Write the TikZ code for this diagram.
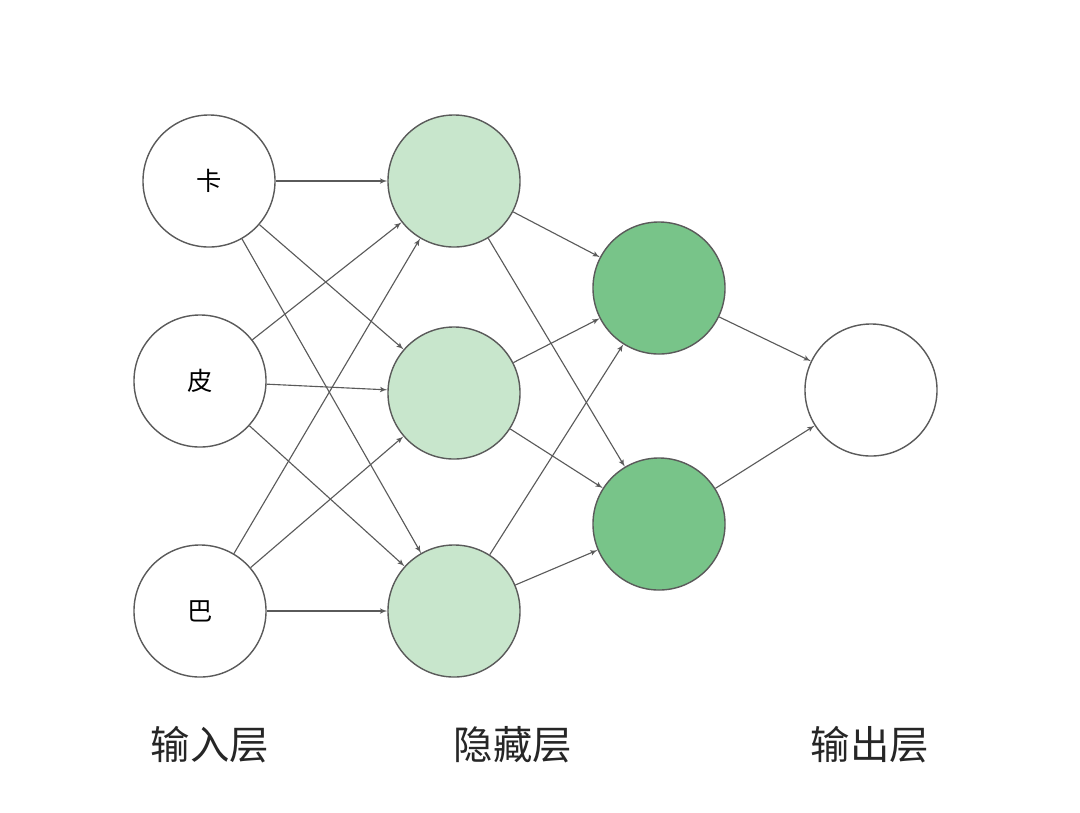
\documentclass[tikz,border=0pt]{standalone}
\usepackage{fontspec}
\setmainfont{Noto Sans CJK SC}
\usetikzlibrary{arrows}
\definecolor{edgegray}{HTML}{5A5A5A}
\definecolor{lightgreen}{HTML}{C8E6CC}
\definecolor{darkgreen}{HTML}{78C489}
\tikzstyle{neuron} = [draw=edgegray, line width=1pt, circle, minimum size=3.3cm, inner sep=0pt, font=\fontsize{18}{20}\selectfont]
\tikzstyle{input} = [neuron, fill=white]
\tikzstyle{hidden} = [neuron, fill=lightgreen]
\tikzstyle{deep} = [neuron, fill=darkgreen]
\tikzstyle{line} = [draw=edgegray, line width=0.8pt, -latex']
\tikzstyle{layer} = [font=\fontsize{28}{32}\selectfont, text=black!85]
\begin{document}
\begin{tikzpicture}[x=0.025cm, y=-0.025cm]
    \useasboundingbox (0,0) rectangle (1080,812);
    % Place nodes
    \node [input] (in-ka) at (209,181) {卡};
    \node [input] (in-pi) at (200,381) {皮};
    \node [input] (in-ba) at (200,611) {巴};
    \node [hidden] (h1-top) at (454,181) {};
    \node [hidden] (h1-mid) at (454,393) {};
    \node [hidden] (h1-bot) at (454,611) {};
    \node [deep] (h2-top) at (659,288) {};
    \node [deep] (h2-bot) at (659,524) {};
    \node [input] (out) at (871,390) {};
    % Layer captions
    \node [layer] (cap-in) at (210,745) {输入层};
    \node [layer] (cap-hid) at (513,745) {隐藏层};
    \node [layer] (cap-out) at (870,745) {输出层};
    % Draw edges
    \foreach \a in {in-ka,in-pi,in-ba}
        \foreach \b in {h1-top,h1-mid,h1-bot}
            \path [line] (\a) -- (\b);
    \foreach \a in {h1-top,h1-mid,h1-bot}
        \foreach \b in {h2-top,h2-bot}
            \path [line] (\a) -- (\b);
    \path [line] (h2-top) -- (out);
    \path [line] (h2-bot) -- (out);
\end{tikzpicture}
\end{document}
